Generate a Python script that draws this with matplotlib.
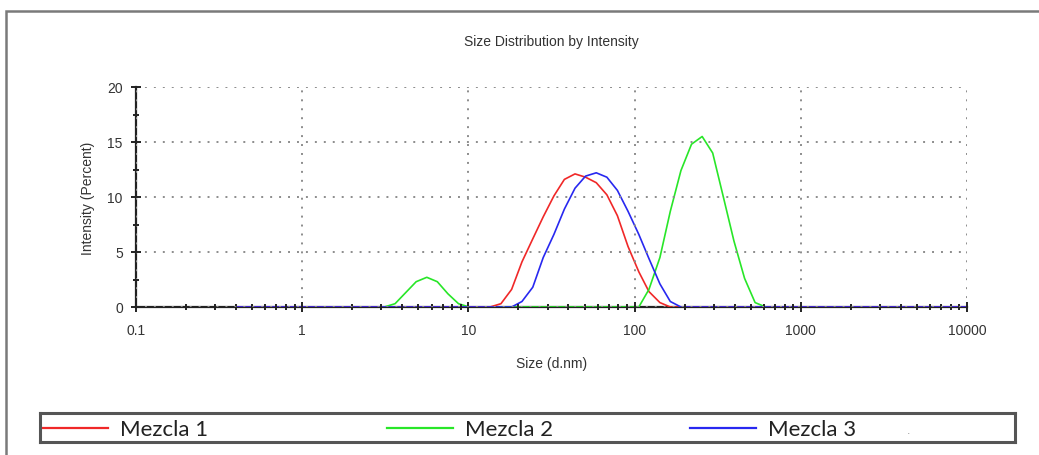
import numpy as np
import matplotlib
matplotlib.use("Agg")
import matplotlib.pyplot as plt
from matplotlib.patches import Rectangle
from matplotlib.ticker import LogLocator, MultipleLocator, FixedLocator

# instrument size classes (d.nm) where the distributions change
size_nm = [0.4, 3.12, 3.62, 4.19, 4.85, 5.62, 6.50, 7.53, 8.72, 10.1, 11.7,
           13.5, 15.7, 18.2, 21.0, 24.4, 28.2, 32.7, 37.8, 43.8, 50.7, 58.8,
           68.1, 78.8, 91.3, 106, 122, 142, 164, 190, 220, 255, 295, 342,
           396, 459, 531, 615, 10000]

nan = np.nan
mezcla_1 = [0, 0, 0, 0, 0, 0, 0, 0, 0, 0, 0,
            0, 0.3, 1.6, 4.1, 6.2, 8.2, 10.1, 11.6, 12.1, 11.8, 11.3,
            10.2, 8.3, 5.5, 3.2, 1.4, 0.4, 0, 0, 0, 0, 0, 0,
            0, 0, 0, 0, 0]
mezcla_2 = [nan, 0, 0.3, 1.3, 2.3, 2.7, 2.3, 1.2, 0.3, 0, nan,
            nan, 0, 0, 0, 0, 0, 0, 0, 0, 0, 0,
            0, 0, 0, 0, 1.6, 4.5, 8.7, 12.4, 14.8, 15.5, 14.0, 10.0,
            6.0, 2.6, 0.4, 0, nan]
mezcla_3 = [0, 0, 0, 0, 0, 0, 0, 0, 0, 0, 0,
            0, 0, 0, 0.5, 1.8, 4.5, 6.6, 8.9, 10.8, 11.9, 12.2,
            11.8, 10.6, 8.7, 6.6, 4.4, 2.1, 0.5, 0, 0, 0, 0, 0,
            0, 0, 0, 0, 0]

names = ["Mezcla 1", "Mezcla 2", "Mezcla 3"]
colors = ["#f02828", "#28e628", "#2828f0"]
series = [mezcla_1, mezcla_2, mezcla_3]

W, H = 1039, 456
fig = plt.figure(figsize=(W / 100, H / 100), dpi=100)
plt.rcParams["font.family"] = ["Liberation Sans", "DejaVu Sans"]

# outer panel frame (runs off the right and bottom edges)
fig.add_artist(Rectangle((6 / W, -0.2), 1.2, 1.2 - 12 / H,
                         transform=fig.transFigure, fill=False,
                         edgecolor="#7a7a7a", linewidth=1.8))

ax = fig.add_axes([136 / W, 148 / H, 831 / W, 220 / H])
for vals, c in zip(series, colors):
    ax.plot(size_nm, vals, color=c, linewidth=1.2)

ax.set_xscale("log")
ax.set_xlim(0.1, 10000)
ax.set_ylim(0, 20)
ax.xaxis.set_major_locator(FixedLocator([0.1, 1, 10, 100, 1000, 10000]))
ax.set_xticklabels(["0.1", "1", "10", "100", "1000", "10000"])
ax.xaxis.set_minor_locator(LogLocator(base=10, subs=np.arange(2, 10)))
ax.xaxis.set_minor_formatter(plt.NullFormatter())
ax.yaxis.set_major_locator(MultipleLocator(5))
ax.yaxis.set_minor_locator(MultipleLocator(2.5))

ax.set_axisbelow(False)
ax.grid(True, which="major", color="#8c8c8c", linewidth=1.4,
        linestyle=(0, (1, 3.6)))
for side in ["top", "right"]:
    ax.spines[side].set_visible(False)
for side in ["left", "bottom"]:
    ax.spines[side].set_linewidth(1.6)
    ax.spines[side].set_color("#222222")
    ax.spines[side].set_zorder(1)

ax.tick_params(which="major", direction="inout", length=7, width=1.4,
               color="#222222", labelsize=10, labelcolor="#333333", pad=6)
ax.tick_params(which="minor", direction="inout", length=4, width=1.4,
               color="#222222")
ax.tick_params(axis="x", which="major", pad=8)

ax.set_title("Size Distribution by Intensity", fontsize=10, color="#333333",
             pad=30)
ax.set_xlabel("Size (d.nm)", fontsize=10, color="#333333", labelpad=14)
ax.set_ylabel("Intensity (Percent)", fontsize=10, color="#333333", labelpad=9)

# legend strip along the bottom
lg = fig.add_axes([40 / W, 13 / H, 975 / W, 29 / H])
lg.set_xlim(40, 1015)
lg.set_ylim(0, 1)
lg.set_xticks([])
lg.set_yticks([])
for s in lg.spines.values():
    s.set_linewidth(2.2)
    s.set_color("#555555")
entry_x = [42, 387, 690]
for x0, name, c in zip(entry_x, names, colors):
    lg.plot([x0, x0 + 66], [0.5, 0.5], color=c, linewidth=1.6)
    lg.text(x0 + 78, 0.45, name, fontsize=16, color="#222222",
            va="center", ha="left", family=["Lato", "DejaVu Sans"])
lg.text(907, 0.4, ".", fontsize=9, color="#999999", va="center")

fig.savefig("out.png", dpi=100)
